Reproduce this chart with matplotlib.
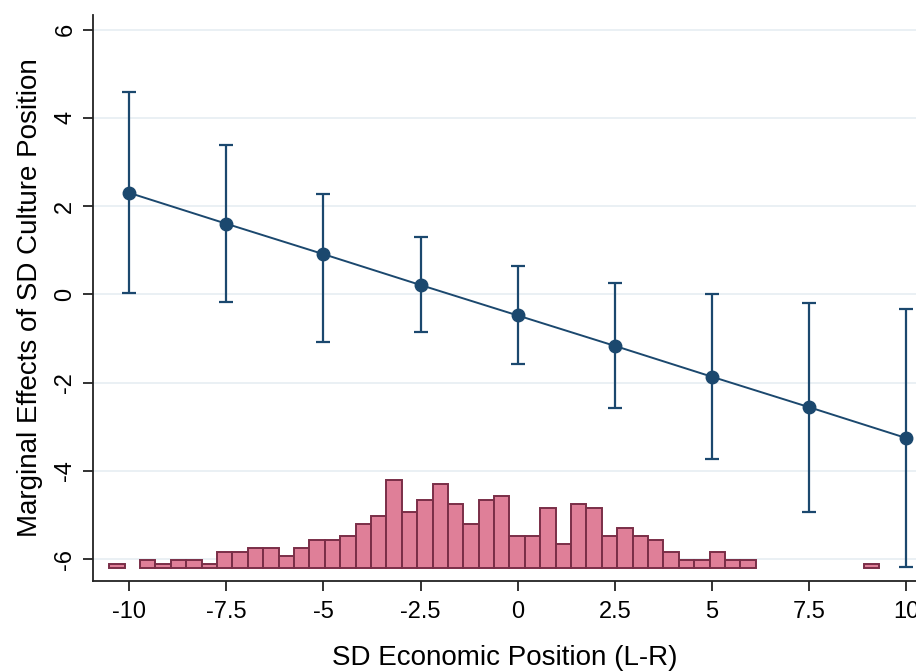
import matplotlib
matplotlib.use("Agg")
import matplotlib.pyplot as plt

plt.rcParams['font.family'] = ['Liberation Sans', 'DejaVu Sans']

# marginal effects at each value of economic position
econ_pos = [-10, -7.5, -5, -2.5, 0, 2.5, 5, 7.5, 10]
effect = [2.30, 1.60, 0.91, 0.21, -0.48, -1.17, -1.87, -2.56, -3.26]
ci_low = [0.03, -0.18, -1.09, -0.86, -1.58, -2.58, -3.74, -4.94, -6.18]
ci_high = [4.58, 3.38, 2.27, 1.30, 0.64, 0.25, 0.00, -0.19, -0.34]

# histogram of economic position (counts per bin), drawn at the bottom
hist_start = -10.51
hist_width = 0.396
hist_counts = [1, 0, 2, 1, 2, 2, 1, 4, 4, 5, 5, 3, 5, 7, 7, 8, 11, 13, 22, 14,
               17, 21, 16, 11, 17, 18, 8, 8, 15, 6, 16, 15, 8, 10, 8, 7, 4, 2,
               2, 4, 2, 2, 0, 0, 0, 0, 0, 0, 0, 1]
hist_base = -6.2
hist_unit = 0.09

xticks = [-10, -7.5, -5, -2.5, 0, 2.5, 5, 7.5, 10]
xticklabels = ['-10', '-7.5', '-5', '-2.5', '0', '2.5', '5', '7.5', '10']
yticks = [-6, -4, -2, 0, 2, 4, 6]

navy = '#1b486e'

fig = plt.figure(figsize=(9.16, 6.71), dpi=100)
ax = fig.add_axes([0.1015, 0.134, 0.9, 0.8436])

# histogram bars
lefts = []
heights = []
for i, c in enumerate(hist_counts):
    if c > 0:
        lefts.append(hist_start + i * hist_width)
        heights.append(c * hist_unit)
ax.bar(lefts, heights, width=hist_width, bottom=hist_base, align='edge',
       color='#df7f98', edgecolor='#7a2e47', linewidth=1.4, zorder=2)

# error bars + line
yerr = [[e - lo for e, lo in zip(effect, ci_low)],
        [hi - e for e, hi in zip(effect, ci_high)]]
ax.errorbar(econ_pos, effect, yerr=yerr, fmt='none', ecolor=navy,
            elinewidth=1.6, capsize=5, capthick=1.6, zorder=3)
ax.plot(econ_pos, effect, color=navy, linewidth=1.4, marker='o',
        markersize=9, markerfacecolor=navy, markeredgecolor=navy, zorder=4)

ax.set_xlim(-10.93, 10.28)
ax.set_ylim(-6.5, 6.33)
ax.set_xticks(xticks)
ax.set_xticklabels(xticklabels)
ax.set_yticks(yticks)
ax.set_yticklabels([str(v) for v in yticks], rotation=90, va='center')

ax.grid(axis='y', color='#e6edf2', linewidth=1.2, zorder=0)
ax.set_axisbelow(True)
for s in ['top', 'right']:
    ax.spines[s].set_visible(False)
for s in ['left', 'bottom']:
    ax.spines[s].set_linewidth(1.3)
    ax.spines[s].set_color('#222222')

ax.tick_params(axis='both', direction='out', length=7, width=1.3,
               labelsize=17, color='#222222')
ax.tick_params(axis='y', pad=5)
ax.tick_params(axis='x', pad=7)

ax.set_xlabel('SD Economic Position (L-R)', fontsize=20, labelpad=16)
ax.set_ylabel('Marginal Effects of SD Culture Position', fontsize=20, labelpad=8)

fig.savefig('out.png', dpi=100)
